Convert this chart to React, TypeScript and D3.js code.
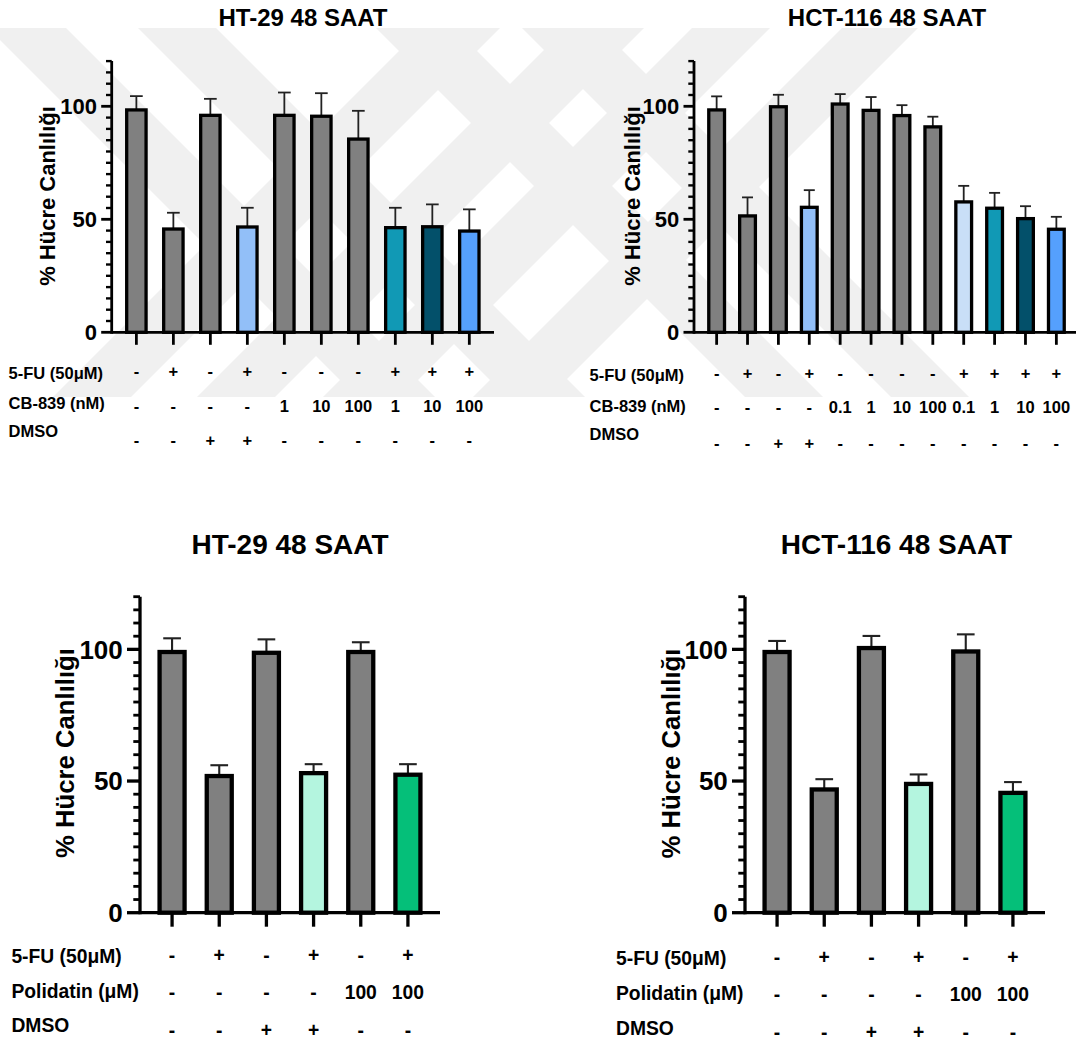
import React from "react";
import * as d3 from "d3";

const FONT = "'Liberation Sans', Arial, Helvetica, sans-serif";

// ---------- DATA ----------
// Top-left: HT-29 + CB-839
const tlTitle = "HT-29 48 SAAT";
const tlMeans = [98.4, 45.7, 96.0, 46.6, 96.0, 95.6, 85.5, 46.3, 46.7, 44.8];
const tlErrors = [6.1, 7.2, 7.3, 8.5, 10.1, 10.2, 12.5, 8.8, 9.9, 9.6];
const tlColors = ["#808080", "#808080", "#808080", "#92bff8", "#808080", "#808080", "#808080", "#1199b5", "#03506a", "#55a0fd"];
const tlRowNames = ["5-FU (50μM)", "CB-839 (nM)", "DMSO"];
const tlFU = ["-", "+", "-", "+", "-", "-", "-", "+", "+", "+"];
const tlCB = ["-", "-", "-", "-", "1", "10", "100", "1", "10", "100"];
const tlDMSO = ["-", "-", "+", "+", "-", "-", "-", "-", "-", "-"];

// Top-right: HCT-116 + CB-839
const trTitle = "HCT-116 48 SAAT";
const trMeans = [98.4, 51.5, 99.8, 55.3, 101.0, 98.2, 95.9, 90.9, 57.7, 54.9, 50.3, 45.6];
const trErrors = [6.0, 8.2, 5.3, 7.6, 4.4, 5.9, 4.6, 4.5, 7.1, 6.8, 5.5, 5.5];
const trColors = ["#808080", "#808080", "#808080", "#92bff8", "#808080", "#808080", "#808080", "#808080", "#c9dff7", "#1199b5", "#03506a", "#55a0fd"];
const trRowNames = ["5-FU (50μM)", "CB-839 (nM)", "DMSO"];
const trFU = ["-", "+", "-", "+", "-", "-", "-", "-", "+", "+", "+", "+"];
const trCB = ["-", "-", "-", "-", "0.1", "1", "10", "100", "0.1", "1", "10", "100"];
const trDMSO = ["-", "-", "+", "+", "-", "-", "-", "-", "-", "-", "-", "-"];

// Bottom-left: HT-29 + Polidatin
const blTitle = "HT-29 48 SAAT";
const blMeans = [99.0, 51.9, 98.7, 53.0, 99.0, 52.4];
const blErrors = [5.2, 4.1, 5.1, 3.4, 3.7, 4.0];
const blColors = ["#808080", "#808080", "#808080", "#b4f5df", "#808080", "#05bf79"];
const blRowNames = ["5-FU (50μM)", "Polidatin (μM)", "DMSO"];
const blFU = ["-", "+", "-", "+", "-", "+"];
const blPol = ["-", "-", "-", "-", "100", "100"];
const blDMSO = ["-", "-", "+", "+", "-", "-"];

// Bottom-right: HCT-116 + Polidatin
const brTitle = "HCT-116 48 SAAT";
const brMeans = [99.0, 46.8, 100.5, 48.9, 99.2, 45.5];
const brErrors = [4.2, 3.9, 4.6, 3.6, 6.5, 4.1];
const brColors = ["#808080", "#808080", "#808080", "#b4f5df", "#808080", "#05bf79"];
const brRowNames = ["5-FU (50μM)", "Polidatin (μM)", "DMSO"];
const brFU = ["-", "+", "-", "+", "-", "+"];
const brPol = ["-", "-", "-", "-", "100", "100"];
const brDMSO = ["-", "-", "+", "+", "-", "-"];

const yMax = 120;
const majorTicks = [0, 50, 100];
const yLabel = "% Hücre Canlılığı";

// ---------- LAYOUT (positions / styles) ----------
const topStyle = {
  titleSize: 24, yLabelSize: 22, tickFont: 22, tickLabelGap: 14.7, majorTick: 10.5, minorTick: 5.7,
  xTick: 12.5, axisW: 2.8, barStroke: 3.3, errW: 1.8, rowFont: 16.5,
};
const botStyle = {
  titleSize: 28, yLabelSize: 25.7, tickFont: 26, tickLabelGap: 17.2, majorTick: 13, minorTick: 6.7,
  xTick: 14, axisW: 3.3, barStroke: 4.3, errW: 2.1, rowFont: 19.3,
};

const panels = [
  {
    title: tlTitle, means: tlMeans, errors: tlErrors, colors: tlColors, rowNames: tlRowNames,
    rows: [tlFU, tlCB, tlDMSO], style: topStyle,
    axisX: 111.7, axisEnd: 494, y0: 332.3, yTop: 61.1, pInner: 0.476, pOuter: 0.405, capW: 12.7,
    titleX: 303, titleY: 26, yLabelX: 55, yLabelY: 196, rowLabelX: 8.6,
    labelBaselines: [379, 409.3, 436.7], valueBaselines: [377, 411.5, 446],
  },
  {
    title: trTitle, means: trMeans, errors: trErrors, colors: trColors, rowNames: trRowNames,
    rows: [trFU, trCB, trDMSO], style: topStyle,
    axisX: 694, axisEnd: 1079, y0: 332.3, yTop: 61.1, pInner: 0.49, pOuter: 0.478, capW: 11,
    titleX: 887, titleY: 26, yLabelX: 640, yLabelY: 196, rowLabelX: 589.6,
    labelBaselines: [380.7, 411.7, 440], valueBaselines: [379, 412.5, 449],
  },
  {
    title: blTitle, means: blMeans, errors: blErrors, colors: blColors, rowNames: blRowNames,
    rows: [blFU, blPol, blDMSO], style: botStyle,
    axisX: 140, axisEnd: 440, y0: 912.7, yTop: 596.7, pInner: 0.47, pOuter: 0.415, capW: 17.7,
    titleX: 290, titleY: 554, yLabelX: 74, yLabelY: 753, rowLabelX: 11.4,
    labelBaselines: [963, 998, 1032], valueBaselines: [961.5, 999, 1036.6],
  },
  {
    title: brTitle, means: brMeans, errors: brErrors, colors: brColors, rowNames: brRowNames,
    rows: [brFU, brPol, brDMSO], style: botStyle,
    axisX: 745, axisEnd: 1045, y0: 912.7, yTop: 596.7, pInner: 0.47, pOuter: 0.415, capW: 17.7,
    titleX: 896.5, titleY: 554, yLabelX: 680, yLabelY: 753.5, rowLabelX: 616,
    labelBaselines: [965, 1000, 1035], valueBaselines: [964, 1001, 1038.5],
  },
];

// Background watermark bands (decoration): top x-ranges at y=28, running at 45° to y=397
const wmBack = [[-12, 66], [138, 216], [376, 454], [522, 600]];
const wmFwd = [[422, 500], [566, 644], [692, 770], [842, 918]];
const wmTop = 28;
const wmBottom = 397;

function Watermark() {
  const h = wmBottom - wmTop;
  const polys: string[] = [];
  wmBack.forEach(([a, b]) => {
    polys.push(`${a},${wmTop} ${b},${wmTop} ${b + h},${wmBottom} ${a + h},${wmBottom}`);
  });
  wmFwd.forEach(([a, b]) => {
    polys.push(`${a},${wmTop} ${b},${wmTop} ${b - h},${wmBottom} ${a - h},${wmBottom}`);
  });
  return (
    <g>
      <defs>
        <clipPath id="wmclip">
          <rect x={0} y={wmTop} width={1076} height={h} />
        </clipPath>
      </defs>
      <g clipPath="url(#wmclip)">
        {polys.map((p, i) => (
          <polygon key={i} points={p} fill="#f0f0f0" />
        ))}
      </g>
    </g>
  );
}

function Panel({ p }: { p: any }) {
  const s = p.style;
  const n = p.means.length;
  const x = d3
    .scaleBand<number>()
    .domain(d3.range(n))
    .range([p.axisX, p.axisEnd])
    .paddingInner(p.pInner)
    .paddingOuter(p.pOuter);
  const y = d3.scaleLinear().domain([0, yMax]).range([p.y0, p.yTop]);
  const minor = d3.range(0, yMax + 0.1, 5).filter((v) => !majorTicks.includes(v));
  const bw = x.bandwidth();

  return (
    <g fontFamily={FONT}>
      <text x={p.titleX} y={p.titleY} textAnchor="middle" fontWeight="bold" fontSize={s.titleSize} fill="#000">
        {p.title}
      </text>
      <text
        transform={`translate(${p.yLabelX},${p.yLabelY}) rotate(-90)`}
        textAnchor="middle"
        fontWeight="bold"
        fontSize={s.yLabelSize}
        fill="#000"
      >
        {yLabel}
      </text>

      {/* error bars */}
      {p.means.map((m: number, i: number) => {
        const cx = (x(i) as number) + bw / 2;
        const top = y(m + p.errors[i]);
        return (
          <g key={"e" + i} stroke="#222" strokeWidth={s.errW}>
            <line x1={cx} x2={cx} y1={y(m)} y2={top} />
            <line x1={cx - p.capW / 2} x2={cx + p.capW / 2} y1={top} y2={top} />
          </g>
        );
      })}

      {/* bars */}
      {p.means.map((m: number, i: number) => (
        <rect
          key={"b" + i}
          x={x(i)}
          y={y(m)}
          width={bw}
          height={p.y0 - y(m)}
          fill={p.colors[i]}
          stroke="#000"
          strokeWidth={s.barStroke}
        />
      ))}

      {/* y axis */}
      <line x1={p.axisX} x2={p.axisX} y1={p.y0 + s.axisW / 2} y2={y(yMax)} stroke="#000" strokeWidth={s.axisW} />
      {minor.map((v) => (
        <line key={"m" + v} x1={p.axisX - s.minorTick} x2={p.axisX} y1={y(v)} y2={y(v)} stroke="#000" strokeWidth={s.axisW * 0.85} />
      ))}
      {majorTicks.map((v) => (
        <g key={"M" + v}>
          <line x1={p.axisX - s.majorTick} x2={p.axisX} y1={y(v)} y2={y(v)} stroke="#000" strokeWidth={s.axisW} />
          <text
            x={p.axisX - s.tickLabelGap}
            y={y(v)}
            dy="0.36em"
            textAnchor="end"
            fontWeight="bold"
            fontSize={s.tickFont}
            fill="#000"
          >
            {v}
          </text>
        </g>
      ))}

      {/* x axis */}
      <line x1={p.axisX} x2={p.axisEnd} y1={p.y0} y2={p.y0} stroke="#000" strokeWidth={s.axisW} />
      {p.means.map((_: number, i: number) => {
        const cx = (x(i) as number) + bw / 2;
        return <line key={"t" + i} x1={cx} x2={cx} y1={p.y0} y2={p.y0 + s.xTick} stroke="#000" strokeWidth={s.axisW} />;
      })}

      {/* row table */}
      {p.rowNames.map((name: string, r: number) => (
        <g key={"r" + r}>
          <text x={p.rowLabelX} y={p.labelBaselines[r]} fontWeight="bold" fontSize={s.rowFont} fill="#000">
            {name}
          </text>
          {p.rows[r].map((v: string, i: number) => (
            <text
              key={i}
              x={(x(i) as number) + bw / 2}
              y={p.valueBaselines[r]}
              textAnchor="middle"
              fontWeight="bold"
              fontSize={s.rowFont}
              fill="#000"
            >
              {v}
            </text>
          ))}
        </g>
      ))}
    </g>
  );
}

export default function App() {
  return (
    <svg
      width={1076}
      height={1045}
      viewBox="0 0 1076 1045"
      style={{ position: "absolute", left: 0, top: 0, background: "#fff" }}
    >
      <rect x={0} y={0} width={1076} height={1045} fill="#fff" />
      <Watermark />
      {panels.map((p, i) => (
        <Panel key={i} p={p} />
      ))}
    </svg>
  );
}
